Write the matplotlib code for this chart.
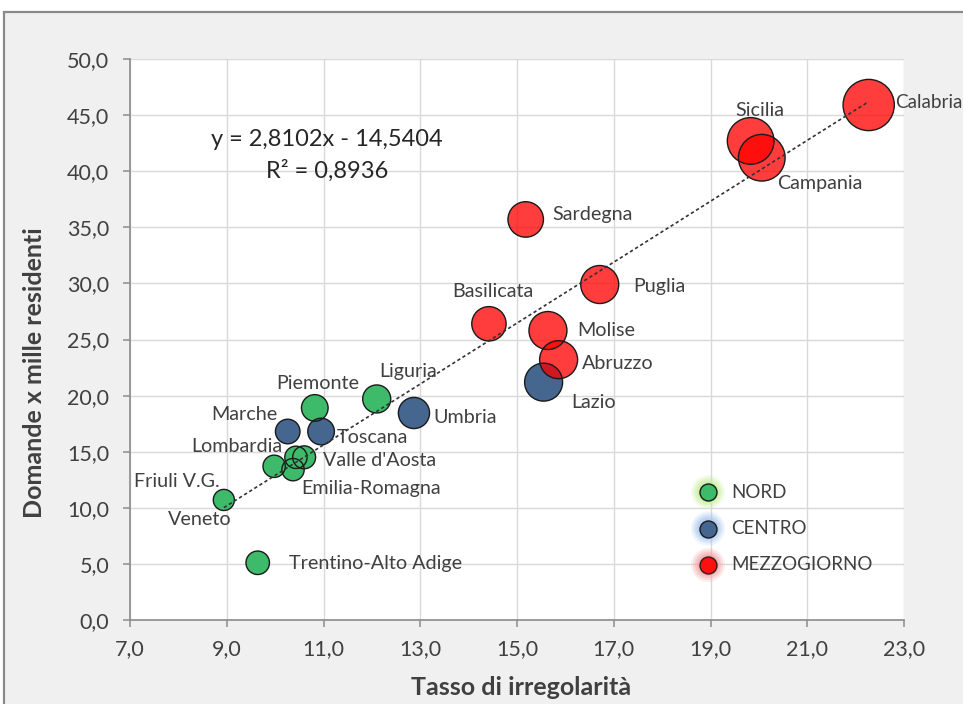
import matplotlib
matplotlib.use("Agg")
import matplotlib.pyplot as plt
import numpy as np
from matplotlib.patches import Rectangle
from matplotlib.ticker import FuncFormatter, FixedLocator

# ---------------- data ----------------
regioni = ["Veneto", "Trentino-Alto Adige", "Lombardia", "Emilia-Romagna", "Friuli V.G.",
           "Valle d'Aosta", "Piemonte", "Liguria",
           "Marche", "Toscana", "Umbria", "Lazio",
           "Basilicata", "Sardegna", "Molise", "Abruzzo", "Puglia", "Sicilia", "Campania", "Calabria"]
area = ["NORD"] * 8 + ["CENTRO"] * 4 + ["MEZZOGIORNO"] * 8
tasso = [8.94, 9.64, 9.98, 10.37, 10.43, 10.60, 10.82, 12.10,
         10.26, 10.95, 12.87, 15.55,
         14.42, 15.18, 15.64, 15.86, 16.71, 19.83, 20.06, 22.27]
domande = [10.7, 5.1, 13.7, 13.4, 14.5, 14.5, 18.9, 19.7,
           16.8, 16.8, 18.45, 21.2,
           26.4, 35.7, 25.8, 23.2, 29.9, 42.7, 41.2, 45.9]
peso = [17, 21, 19, 19, 19, 20, 27, 30,
        23, 27, 37, 55,
        45, 48, 55, 55, 55, 83, 83, 100]
x_ticks = [7, 9, 11, 13, 15, 17, 19, 21, 23]
y_ticks = [0, 5, 10, 15, 20, 25, 30, 35, 40, 45, 50]
equazione = "y = 2,8102x - 14,5404"
r2_testo = "R² = 0,8936"
aree = ["NORD", "CENTRO", "MEZZOGIORNO"]

# ---------------- style ----------------
FONT = ["Lato", "DejaVu Sans"]
plt.rcParams["font.family"] = FONT
colori = {"NORD": "#3dbb6a", "CENTRO": "#44668f", "MEZZOGIORNO": "#ff0000"}
alpha_area = {"NORD": 1.0, "CENTRO": 1.0, "MEZZOGIORNO": 0.76}
glow = {"NORD": "#c5ef9a", "CENTRO": "#a9c9f2", "MEZZOGIORNO": "#f3a3a3"}
TXT = "#404040"

# label offsets in pixels (dx, dy with dy positive downward), horizontal alignment
lab = {
    "Veneto": (-24, 20, "center"),
    "Trentino-Alto Adige": (31, 1, "left"),
    "Lombardia": (8, -20, "right"),
    "Emilia-Romagna": (8, 19, "left"),
    "Friuli V.G.": (-76, 24, "right"),
    "Valle d'Aosta": (19, 3, "left"),
    "Piemonte": (3, -24, "center"),
    "Liguria": (31, -27, "center"),
    "Marche": (-10, -17, "right"),
    "Toscana": (16, 6, "left"),
    "Umbria": (19, 5, "left"),
    "Lazio": (28, 20, "left"),
    "Basilicata": (4, -32, "center"),
    "Sardegna": (27, -5, "left"),
    "Molise": (29, 0, "left"),
    "Abruzzo": (23, 4, "left"),
    "Puglia": (34, 2, "left"),
    "Sicilia": (9, -30, "center"),
    "Campania": (15, 26, "left"),
    "Calabria": (26, -3, "left"),
}

W, H, DPI = 963, 704, 100
fig = plt.figure(figsize=(W / DPI, H / DPI), dpi=DPI)
fig.patch.set_facecolor("white")
fig.patches.append(Rectangle((4 / W, -0.05), 1.2, (H - 12) / H + 0.05, transform=fig.transFigure,
                             facecolor="#f0f0f0", edgecolor="#8a8a8a", lw=1.6, zorder=-10))

x0, x1, y0, y1 = 130, 904, 59, 620
ax = fig.add_axes([x0 / W, (H - y1) / H, (x1 - x0) / W, (y1 - y0) / H])
ax.set_facecolor("white")
ax.set_xlim(x_ticks[0], x_ticks[-1])
ax.set_ylim(y_ticks[0], y_ticks[-1])
ax.xaxis.set_major_locator(FixedLocator(x_ticks))
ax.yaxis.set_major_locator(FixedLocator(y_ticks))
fmt = FuncFormatter(lambda v, p: f"{v:.1f}".replace(".", ","))
ax.xaxis.set_major_formatter(fmt)
ax.yaxis.set_major_formatter(fmt)
ax.grid(True, color="#d9d9d9", lw=1.0, zorder=0)
ax.set_axisbelow(True)
for s in ["top", "right"]:
    ax.spines[s].set_visible(False)
for s in ["left", "bottom"]:
    ax.spines[s].set_color("#8c8c8c")
    ax.spines[s].set_linewidth(1.2)
ax.tick_params(axis="both", direction="out", length=5, width=1.1, color="#8c8c8c",
               labelsize=15.5, labelcolor=TXT)
ax.tick_params(axis="x", pad=9)
ax.tick_params(axis="y", pad=10)


def fx(px):
    return (px - x0) / (x1 - x0)


def fy(py):
    return (y1 - py) / (y1 - y0)


ax.set_xlabel("Tasso di irregolarità", fontsize=18, fontweight="bold", color=TXT)
ax.set_ylabel("Domande x mille residenti", fontsize=18, fontweight="bold", color=TXT)
ax.xaxis.set_label_coords(fx(521), fy(676))
ax.yaxis.set_label_coords(fx(46), fy(373))

tasso_a = np.array(tasso)
dom_a = np.array(domande)
peso_a = np.array(peso)
S = 13.6
px2pt = 72 / DPI
for a in aree:
    m = np.array([g == a for g in area])
    ax.scatter(tasso_a[m], dom_a[m], s=peso_a[m] * S, color=colori[a], alpha=alpha_area[a],
               edgecolors="none", zorder=3)
    ax.scatter(tasso_a[m], dom_a[m], s=peso_a[m] * S, facecolors="none",
               edgecolors="#1a1a1a", linewidths=1.0, zorder=3.1)

# trend line (least squares on data)
k, q = np.polyfit(tasso_a, dom_a, 1)
xs = np.array([tasso_a.min(), tasso_a.max()])
ax.plot(xs, k * xs + q, color="#333333", lw=1.2, ls=(0, (2, 1.6)), zorder=4)

for name, xv, yv in zip(regioni, tasso, domande):
    dx, dy, ha = lab[name]
    fs = 13.6 if name == "Calabria" else 14.2
    ax.annotate(name, (xv, yv), xytext=(dx * px2pt, -dy * px2pt), textcoords="offset points",
                ha=ha, va="center", fontsize=fs, color=TXT, zorder=5)

ax.text(fx(327), fy(140), equazione, transform=ax.transAxes, ha="center", va="center",
        fontsize=17, color="#262626")
ax.text(fx(327), fy(171), r2_testo, transform=ax.transAxes, ha="center", va="center",
        fontsize=17, color="#262626")

# legend with glow
for i, a in enumerate(aree):
    yy = fy(492 + 36.5 * i)
    for r, al in [(17, 0.18), (15, 0.25), (13, 0.35), (11, 0.5)]:
        ax.scatter([fx(708)], [yy], s=(2 * r * px2pt) ** 2, color=glow[a], alpha=al,
                   edgecolors="none", transform=ax.transAxes, zorder=5, clip_on=False)
    ax.scatter([fx(708)], [yy], s=(2 * 8.5 * px2pt) ** 2, color=colori[a],
               alpha=min(1, alpha_area[a] + 0.15), edgecolors="#1a1a1a", linewidths=1.0,
               transform=ax.transAxes, zorder=6, clip_on=False)
    ax.text(fx(731), yy, a, transform=ax.transAxes, ha="left", va="center", fontsize=13.5,
            color=TXT, zorder=6)

fig.savefig("out.png", dpi=DPI)
